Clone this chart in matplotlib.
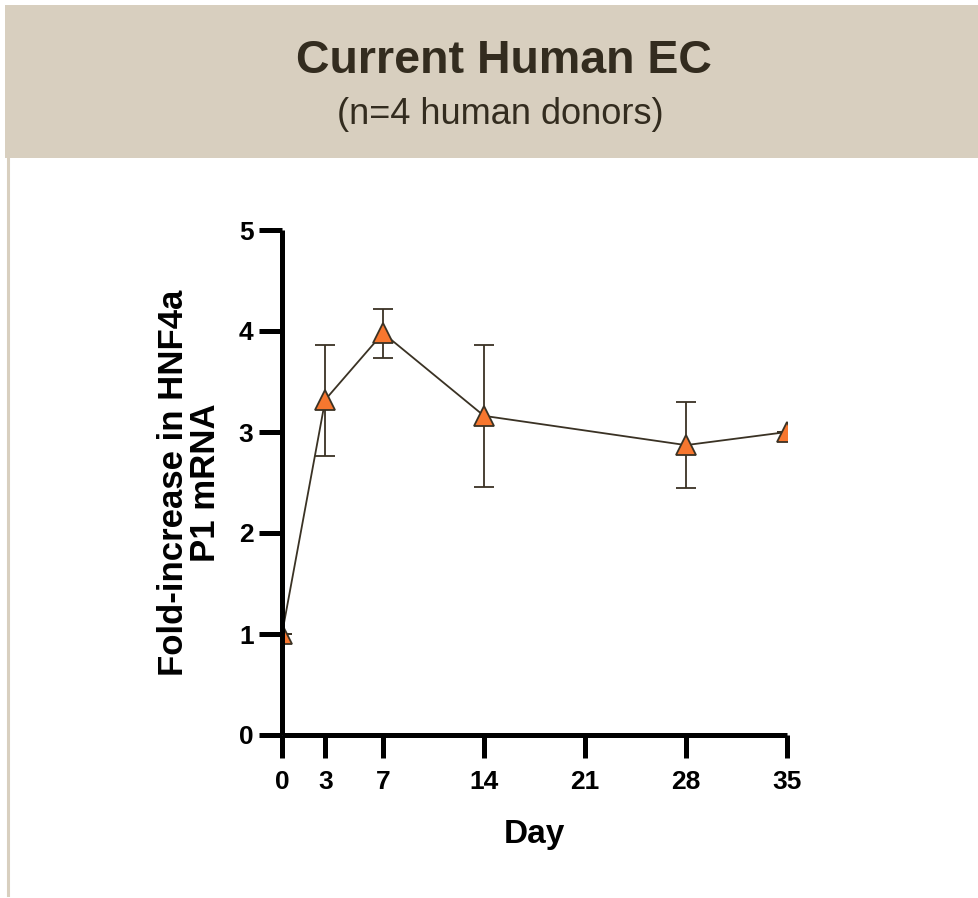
import matplotlib.pyplot as plt
from matplotlib.patches import Rectangle
from matplotlib.lines import Line2D

plt.rcParams['font.family'] = ['Liberation Sans', 'DejaVu Sans']

# Data
days = [0, 3, 7, 14, 28, 35]
fold_increase = [1.0, 3.32, 3.98, 3.16, 2.87, 3.0]
err_low = [0.0, 0.56, 0.25, 0.70, 0.42, 0.0]
err_high = [0.0, 0.54, 0.24, 0.70, 0.43, 0.0]
x_ticks = [0, 3, 7, 14, 21, 28, 35]
y_ticks = [0, 1, 2, 3, 4, 5]

W, H = 979, 898
fig = plt.figure(figsize=(W / 100, H / 100), dpi=100)

# Header band and left border
band_color = '#d8cfbf'
fig.add_artist(Rectangle((5 / W, 1 - 158 / H), 1 - 5 / W, 153 / H,
                         transform=fig.transFigure, facecolor=band_color,
                         edgecolor='none', zorder=0))
fig.add_artist(Line2D([8.5 / W, 8.5 / W], [1 - 158 / H, 1 - 895 / H],
                      transform=fig.transFigure, color=band_color, lw=2.2))

text_color = '#332c1f'
fig.text(0.515, 1 - 61 / H, 'Current Human EC', ha='center', va='center',
         fontsize=33.5, fontweight='bold', color=text_color)
fig.text(0.511, 1 - 114 / H, '(n=4 human donors)', ha='center', va='center',
         fontsize=26, color=text_color)

ax = fig.add_axes([282 / W, 1 - 735 / H, 505 / W, 505 / H])

ax.errorbar(days, fold_increase, yerr=[err_low, err_high],
            color='#3a3224', lw=1.3, elinewidth=1.3, capsize=7.5, capthick=1.3,
            marker='^', markersize=14, markerfacecolor='#f7772f',
            markeredgecolor='#3a3224', markeredgewidth=1.3)

ax.set_xlim(0, 35)
ax.set_ylim(0, 5)
ax.set_xticks(x_ticks)
ax.set_yticks(y_ticks)

for side in ['top', 'right']:
    ax.spines[side].set_visible(False)
for side in ['left', 'bottom']:
    ax.spines[side].set_linewidth(3.6)
    ax.spines[side].set_capstyle('butt')

ax.tick_params(axis='both', length=16.5, width=3.6, labelsize=19)
ax.tick_params(axis='x', pad=9)
ax.tick_params(axis='y', pad=4)
for lab in ax.get_xticklabels() + ax.get_yticklabels():
    lab.set_fontweight('bold')

ax.set_xlabel('Day', fontsize=24, fontweight='bold', labelpad=18)
ax.set_ylabel('Fold-increase in HNF4a\nP1 mRNA', fontsize=25,
              fontweight='bold', labelpad=12, linespacing=0.95)

fig.savefig('out.png', dpi=100)
